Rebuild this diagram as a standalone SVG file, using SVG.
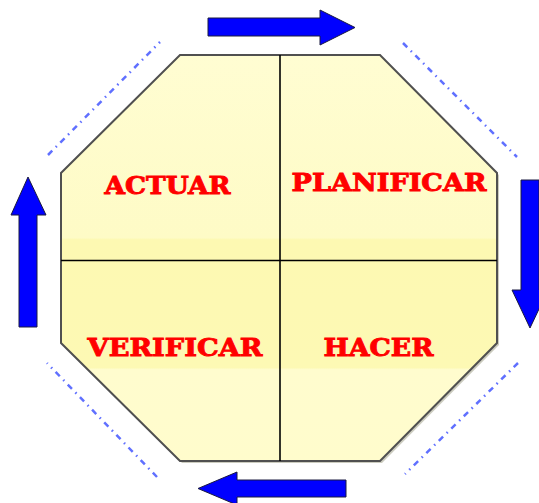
<svg xmlns="http://www.w3.org/2000/svg" width="539" height="503" viewBox="0 0 539 503">
<style>
.lbl{font-family:"DejaVu Serif","Liberation Serif",serif;font-weight:bold;font-size:24.5px;fill:#FF0000;stroke:#FF0000;stroke-width:0.9;text-anchor:middle}
.arr{fill:#0000FF;stroke:#1a1a40;stroke-width:1}
.dash{stroke:#6070FF;stroke-width:2.5;fill:none;stroke-dasharray:6 5 1.5 5}
.div{stroke:#000;stroke-width:1.6}
</style>
<defs>
<linearGradient id="g" x1="0" y1="55" x2="0" y2="461" gradientUnits="userSpaceOnUse">
<stop offset="0" stop-color="#FFFDD2"/>
<stop offset="0.45" stop-color="#FEFBC6"/>
<stop offset="0.455" stop-color="#FDF9B2"/>
<stop offset="0.77" stop-color="#FDF9B4"/>
<stop offset="0.775" stop-color="#FFFCCE"/>
<stop offset="1" stop-color="#FFFCCC"/>
</linearGradient>
</defs>
<g id="octagon">
<polygon points="182,57 382,57 499,175 499,345 382,463 182,463 63,345 63,175" fill="#9a9a80" opacity="0.5"/>
<polygon points="180,55 380,55 497,173 497,343 380,461 180,461 61,343 61,173" fill="url(#g)" stroke="#505050" stroke-width="2"/>
<line class="div" x1="280" y1="55" x2="280" y2="461"/>
<line class="div" x1="61" y1="260.5" x2="497" y2="260.5"/>
</g>
<g id="actuar"><text class="lbl" x="167.5" y="193.5" textLength="126" lengthAdjust="spacingAndGlyphs">ACTUAR</text></g>
<g id="planificar"><text class="lbl" x="389" y="190.5" textLength="195" lengthAdjust="spacingAndGlyphs">PLANIFICAR</text></g>
<g id="verificar"><text class="lbl" x="175" y="355.5" textLength="175" lengthAdjust="spacingAndGlyphs">VERIFICAR</text></g>
<g id="hacer"><text class="lbl" x="378.5" y="355.5" textLength="110" lengthAdjust="spacingAndGlyphs">HACER</text></g>
<g id="connectors">
<polygon class="arr" points="208,18 320,18 320,10 355,27.5 320,45 320,36 208,36"/>
<polygon class="arr" points="521,180 539,180 539,290 548,290 530,328 512,290 521,290"/>
<polygon class="arr" points="346,480 346,497 237,497 237,505 198,488.5 237,472 237,480"/>
<polygon class="arr" points="19,327 19,215 11,215 28,177 46,215 37,215 37,327"/>
<line class="dash" x1="48" y1="155" x2="160" y2="42"/>
<line class="dash" x1="403" y1="43" x2="517" y2="157"/>
<line class="dash" x1="518" y1="363" x2="405" y2="474"/>
<line class="dash" x1="157" y1="477" x2="47" y2="363"/>
</g>
</svg>
